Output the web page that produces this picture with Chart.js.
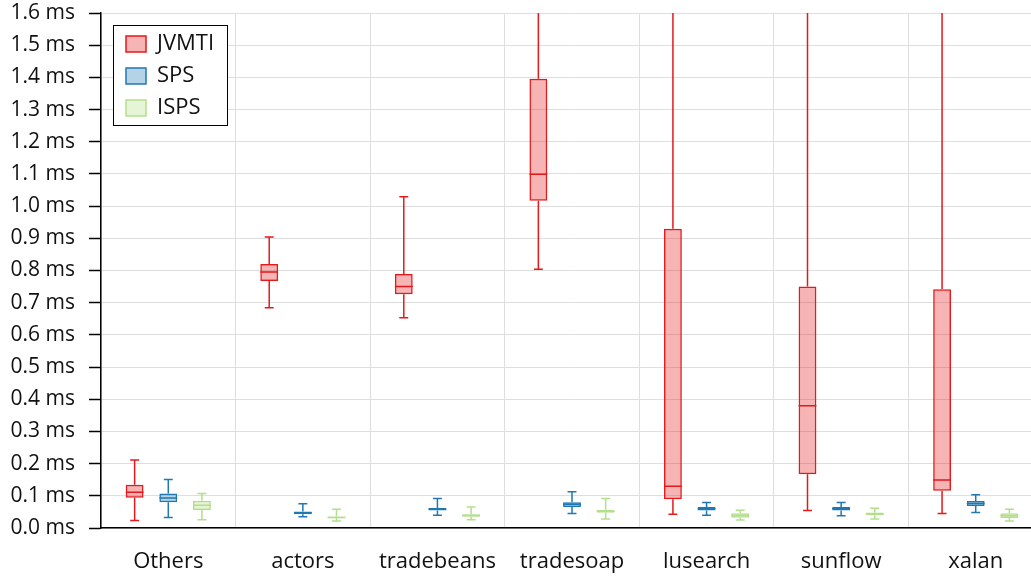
<!DOCTYPE html>
<html>
<head>
<meta charset="utf-8">
<title>Sampling overhead per benchmark</title>
<script src="https://cdn.jsdelivr.net/npm/chart.js@4/dist/chart.umd.min.js"></script>
<style>
  html, body { margin: 0; padding: 0; background: #fff; overflow: hidden; }
  #wrap { width: 1043px; height: 576px; }
</style>
</head>
<body>
<div id="wrap"><canvas id="chart" width="1043" height="576"></canvas></div>
<script>
// Benchmarks on the x axis
const categories = ['Others', 'actors', 'tradebeans', 'tradesoap', 'lusearch', 'sunflow', 'xalan'];

// Five-number summaries per benchmark, in ms: [min, q1, median, q3, max]
const jvmti = [
  [0.023, 0.094, 0.111, 0.134, 0.211],
  [0.684, 0.767, 0.795, 0.820, 0.904],
  [0.653, 0.726, 0.750, 0.789, 1.029],
  [0.804, 1.017, 1.099, 1.396, 2.10],
  [0.043, 0.089, 0.130, 0.930, 2.60],
  [0.054, 0.167, 0.380, 0.750, 2.30],
  [0.045, 0.116, 0.149, 0.742, 2.45]
];
const sps = [
  [0.033, 0.080, 0.093, 0.107, 0.151],
  [0.035, 0.043, 0.047, 0.051, 0.075],
  [0.040, 0.054, 0.058, 0.062, 0.092],
  [0.045, 0.065, 0.074, 0.080, 0.113],
  [0.040, 0.054, 0.060, 0.065, 0.079],
  [0.038, 0.054, 0.060, 0.065, 0.079],
  [0.048, 0.068, 0.076, 0.084, 0.103]
];
const isps = [
  [0.026, 0.056, 0.071, 0.085, 0.107],
  [0.022, 0.030, 0.033, 0.036, 0.058],
  [0.026, 0.035, 0.039, 0.043, 0.065],
  [0.028, 0.047, 0.052, 0.057, 0.092],
  [0.025, 0.032, 0.039, 0.046, 0.055],
  [0.028, 0.040, 0.044, 0.048, 0.061],
  [0.022, 0.031, 0.038, 0.046, 0.058]
];

// Value axis range and step, in ms
const yMin = 0.0;
const yMax = 1.6;
const yStep = 0.1;

const FONT = '"Open Sans", "Noto Sans", sans-serif';
const TEXT = '#111';

function boxDataset(label, stats, stroke, fill) {
  return {
    label: label,
    stats: stats,
    data: stats.map(s => [s[1], s[3]]),   // box spans q1..q3
    backgroundColor: fill,
    borderColor: stroke,
    borderWidth: 1.5,
    borderSkipped: false,
    categoryPercentage: 0.75,
    barPercentage: 0.53
  };
}

// Medians and whiskers drawn on top of each floating box
const whiskers = {
  id: 'whiskers',
  afterDatasetsDraw(chart) {
    const ctx = chart.ctx;
    const ys = chart.scales.y;
    const a = chart.chartArea;
    ctx.save();
    ctx.beginPath();
    ctx.rect(a.left, a.top, a.right - a.left, a.bottom - a.top);
    ctx.clip();
    chart.data.datasets.forEach((ds, di) => {
      const meta = chart.getDatasetMeta(di);
      meta.data.forEach((bar, i) => {
        const [mn, q1, md, q3, mx] = ds.stats[i];
        const p = bar.getProps(['x', 'width'], true);
        const half = p.width / 2;
        const cap = p.width / 4;
        const x = p.x;
        const yMed = ys.getPixelForValue(md);
        const yQ1 = ys.getPixelForValue(q1);
        const yQ3 = ys.getPixelForValue(q3);
        const yLo = ys.getPixelForValue(mn);
        const yHi = ys.getPixelForValue(mx);
        ctx.strokeStyle = ds.borderColor;
        ctx.lineWidth = 1.5;
        ctx.beginPath();
        ctx.moveTo(x - half, yMed); ctx.lineTo(x + half, yMed);
        ctx.moveTo(x, yQ3); ctx.lineTo(x, yHi);
        ctx.moveTo(x - cap, yHi); ctx.lineTo(x + cap, yHi);
        ctx.moveTo(x, yQ1); ctx.lineTo(x, yLo);
        ctx.moveTo(x - cap, yLo); ctx.lineTo(x + cap, yLo);
        ctx.stroke();
      });
    });
    ctx.restore();
  }
};

// Places the legend in the upper-left corner of the plot inside a framed white panel
const legendPanel = {
  id: 'legendPanel',
  afterLayout(chart) {
    const lg = chart.legend;
    if (!lg) return;
    const a = chart.chartArea;
    lg.left = a.left + 15;
    lg.top = a.top + 10;
    lg.right = lg.left + lg.width;
    lg.bottom = lg.top + 200;
    if (!lg._framed) {
      const orig = lg.draw;
      lg.draw = function () {
        const ctx = this.ctx;
        const ca = this.chart.chartArea;
        const fx = Math.round(ca.left + 12) + 0.5;
        const fy = Math.round(ca.top + 12) + 0.5;
        ctx.save();
        ctx.fillStyle = '#fff';
        ctx.fillRect(fx, fy, 114, 100);
        ctx.strokeStyle = '#000';
        ctx.lineWidth = 1;
        ctx.strokeRect(fx, fy, 114, 100);
        ctx.restore();
        orig.apply(this, arguments);
      };
      lg._framed = true;
    }
  }
};

new Chart(document.getElementById('chart'), {
  type: 'bar',
  data: {
    labels: categories,
    datasets: [
      boxDataset('JVMTI', jvmti, '#e31a1c', 'rgba(227,26,28,0.33)'),
      boxDataset('SPS', sps, '#1f78b4', 'rgba(31,120,180,0.33)'),
      boxDataset('ISPS', isps, '#b2df8a', 'rgba(178,223,138,0.33)')
    ]
  },
  options: {
    responsive: false,
    animation: false,
    layout: { padding: { top: 0, right: 0, left: 0, bottom: 0 } },
    plugins: {
      tooltip: { enabled: false },
      legend: {
        position: 'chartArea',
        align: 'start',
        labels: {
          boxWidth: 20,
          boxHeight: 16,
          padding: 10,
          color: TEXT,
          font: { family: FONT, size: 22 }
        }
      }
    },
    scales: {
      x: {
        offset: true,
        grid: { offset: true, color: '#dedede', lineWidth: 1, drawTicks: false },
        border: { color: '#000', width: 1.5 },
        ticks: { color: TEXT, padding: 21, font: { family: FONT, size: 22 } },
        afterFit(s) { s.height = 48; }
      },
      y: {
        min: yMin,
        max: yMax,
        grid: { color: '#dedede', lineWidth: 1, tickLength: 12, tickColor: '#000', tickWidth: 1.5 },
        border: { color: '#000', width: 1.5 },
        ticks: {
          stepSize: yStep,
          color: TEXT,
          padding: 14,
          font: { family: FONT, size: 21 },
          callback: v => v.toFixed(1) + ' ms'
        },
        afterFit(s) {
          s.width = 101;
          s.paddingTop = 13;
        }
      }
    }
  },
  plugins: [whiskers, legendPanel]
});
</script>
</body>
</html>
